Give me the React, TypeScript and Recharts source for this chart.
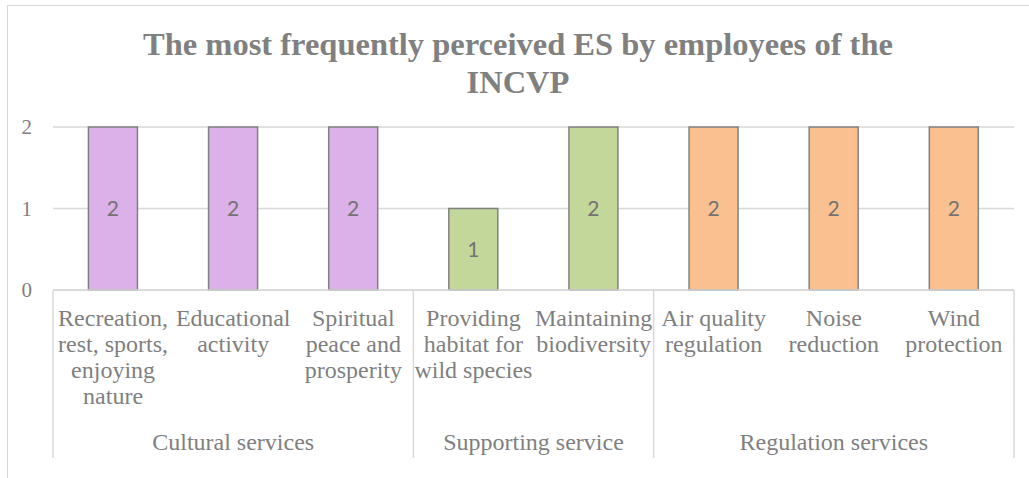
import { BarChart, Bar, Cell, XAxis, YAxis, CartesianGrid, LabelList } from 'recharts';

// category labels, with the line breaks used in the picture
const categories = [
  'Recreation,\nrest, sports,\nenjoying\nnature',
  'Educational\nactivity',
  'Spiritual\npeace and\nprosperity',
  'Providing\nhabitat for\nwild species',
  'Maintaining\nbiodiversity',
  'Air quality\nregulation',
  'Noise\nreduction',
  'Wind\nprotection',
];
const values = [2, 2, 2, 1, 2, 2, 2, 2];

const groupNames = ['Cultural services', 'Supporting service', 'Regulation services'];
const groupSizes = [3, 2, 3];
const groupColors = ['#DCB0E8', '#C4D79B', '#FAC090'];

const yTicks = [0, 1, 2];

const SERIF = '"Liberation Serif", "Times New Roman", Tinos, serif';
const TEXT = '#7f7f7f';
const LINE = '#d9d9d9';

function groupOf(index: number) {
  let start = 0;
  let g = 0;
  while (g < groupSizes.length - 1 && index >= start + groupSizes[g]) {
    start += groupSizes[g];
    g++;
  }
  return { g, start };
}

const data = categories.map((name, i) => ({
  name,
  value: values[i],
  color: groupColors[groupOf(i).g],
}));

function CategoryTick(props: any) {
  const { x, y, payload, width } = props;
  const index = props.index ?? payload.index;
  const half = payload.offset ?? width / categories.length / 2;
  const lines = String(payload.value).split('\n');
  const { g, start } = groupOf(index);
  const isFirst = index === start;
  const isLast = index === categories.length - 1;

  return (
    <g>
      <text x={x} y={y} textAnchor="middle" fill={TEXT} style={{ fontFamily: SERIF, fontSize: 24 }}>
        {lines.map((l, i) => (
          <tspan key={i} x={x} dy={i === 0 ? 36 : 26}>
            {l}
          </tspan>
        ))}
      </text>
      {isFirst && <line x1={x - half} x2={x - half} y1={y} y2={y + 168} stroke={LINE} strokeWidth={1.5} />}
      {isLast && <line x1={x + half} x2={x + half} y1={y} y2={y + 168} stroke={LINE} strokeWidth={1.5} />}
      {isFirst && (
        <text
          x={x + (groupSizes[g] - 1) * half}
          y={y + 160}
          textAnchor="middle"
          fill={TEXT}
          style={{ fontFamily: SERIF, fontSize: 24 }}
        >
          {groupNames[g]}
        </text>
      )}
    </g>
  );
}

export default function App() {
  return (
    <div style={{ position: 'absolute', left: 0, top: 0, width: 1029, height: 478, overflow: 'hidden', background: '#fff' }}>
      <div
        style={{
          position: 'absolute',
          left: 7,
          top: 5,
          width: 1100,
          height: 600,
          border: `1.5px solid ${LINE}`,
        }}
      />
      <div
        style={{
          position: 'absolute',
          left: 7,
          top: 25,
          width: 1022,
          textAlign: 'center',
          fontFamily: SERIF,
          fontWeight: 'bold',
          fontSize: 32.5,
          lineHeight: '38px',
          color: '#808080',
        }}
      >
        The most frequently perceived ES by employees of the
        <br />
        INCVP
      </div>
      <div style={{ position: 'absolute', left: 0, top: 0 }}>
        <BarChart
          width={1029}
          height={478}
          data={data}
          margin={{ top: 127, right: 15, bottom: 20, left: 0 }}
          barCategoryGap="29.5%"
        >
          <CartesianGrid vertical={false} stroke={LINE} strokeWidth={1.5} />
          <XAxis
            dataKey="name"
            interval={0}
            height={168}
            tickLine={false}
            tickSize={0}
            tickMargin={0}
            axisLine={{ stroke: LINE, strokeWidth: 1.5 }}
            tick={<CategoryTick />}
          />
          <YAxis
            domain={[0, 2]}
            ticks={yTicks}
            width={53}
            tickLine={false}
            axisLine={false}
            tickSize={0}
            tickMargin={21}
            tick={{ fill: TEXT, style: { fontFamily: SERIF, fontSize: 21 } }}
          />
          <Bar dataKey="value" stroke="#808080" strokeWidth={1.5} isAnimationActive={false}>
            {data.map((d, i) => (
              <Cell key={i} fill={d.color} />
            ))}
            <LabelList
              dataKey="value"
              position="center"
              fill="#737373"
              style={{ fontFamily: 'Lato, "Open Sans", sans-serif', fontSize: 21 }}
            />
          </Bar>
        </BarChart>
      </div>
    </div>
  );
}
